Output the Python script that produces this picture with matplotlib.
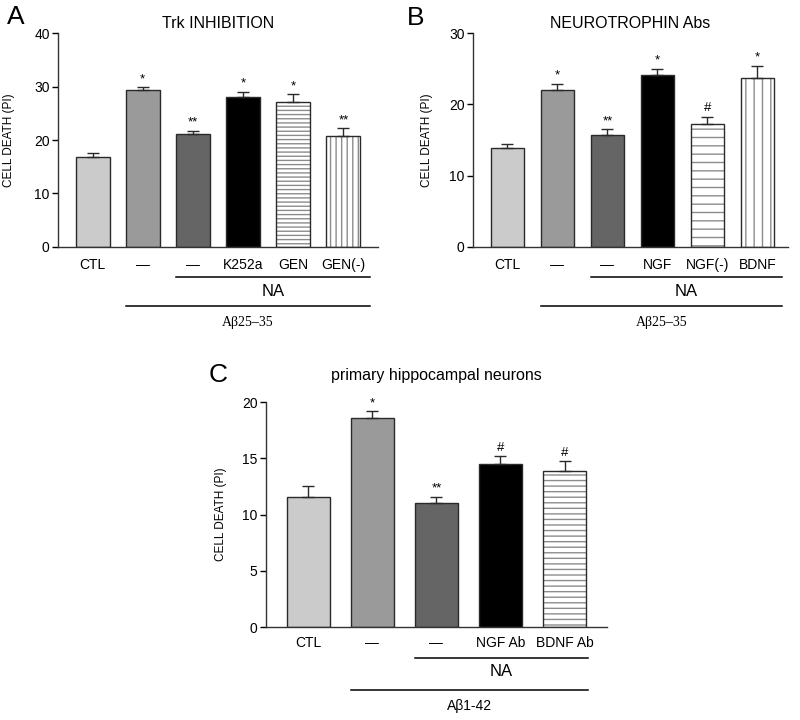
import matplotlib
matplotlib.use("Agg")
import matplotlib.pyplot as plt
import matplotlib.transforms as mtransforms

plt.rcParams['font.family'] = ['Liberation Sans', 'DejaVu Sans']

# ---- data ----
a_labels = ['CTL', '—', '—', 'K252a', 'GEN', 'GEN(-)']
a_values = [16.8, 29.3, 21.1, 28.0, 27.2, 20.8]
a_errors = [0.8, 0.6, 0.6, 1.0, 1.4, 1.4]
a_marks = ['', '*', '**', '*', '*', '**']

b_labels = ['CTL', '—', '—', 'NGF', 'NGF(-)', 'BDNF']
b_values = [13.9, 22.0, 15.7, 24.1, 17.3, 23.7]
b_errors = [0.6, 0.9, 0.8, 0.9, 1.0, 1.7]
b_marks = ['', '*', '**', '*', '#', '*']

c_labels = ['CTL', '—', '—', 'NGF Ab', 'BDNF Ab']
c_values = [11.6, 18.6, 11.0, 14.5, 13.9]
c_errors = [0.9, 0.6, 0.6, 0.7, 0.9]
c_marks = ['', '*', '**', '#', '#']

face = ['#cbcbcb', '#9a9a9a', '#656565', '#000000', 'white', 'white']
edge = '#2a2a2a'


def draw_panel(ax, labels, values, errors, marks, hatches, ymax, yticks,
               xlim, width, na_end, peptide, pep_family, title, title_y,
               ylab_x, ytxt):
    n = len(values)
    x = list(range(n))
    for i in x:
        if hatches[i]:
            ax.bar(i, values[i], width, color='white', edgecolor='#8c8c8c',
                   hatch=hatches[i], linewidth=0, zorder=2)
            ax.bar(i, values[i], width, fill=False, edgecolor=edge,
                   linewidth=1.0, zorder=3)
        else:
            ax.bar(i, values[i], width, color=face[i], edgecolor=edge,
                   linewidth=1.0, zorder=2)
    ax.errorbar(x, values, yerr=[[0] * n, errors], fmt='none', ecolor=edge,
                elinewidth=1.0, capsize=4.5, capthick=1.0, zorder=4)
    for i in x:
        if marks[i]:
            ax.annotate(marks[i], (i, values[i] + errors[i]),
                        xytext=(0, 1.5), textcoords='offset points',
                        ha='center', va='bottom', fontsize=9.5)

    ax.set_xlim(*xlim)
    ax.set_ylim(0, ymax)
    ax.set_yticks(yticks)
    ax.tick_params(axis='y', labelsize=10, length=4, width=1, pad=2)
    ax.set_xticks([])
    for s in ['top', 'right']:
        ax.spines[s].set_visible(False)
    for s in ['left', 'bottom']:
        ax.spines[s].set_linewidth(1.0)
        ax.spines[s].set_color('#333333')
    ax.set_ylabel('CELL DEATH (PI)', fontsize=8.5)
    ax.yaxis.set_label_coords(ylab_x, 0.5)
    ax.text(0.5, title_y, title, transform=ax.transAxes, ha='center',
            va='center', fontsize=11.5)

    trans = mtransforms.blended_transform_factory(ax.transData, ax.transAxes)
    t_lab, y_na, t_na, y_pep, t_pep = ytxt
    for i in x:
        ax.text(i, t_lab, labels[i], transform=trans, ha='center',
                va='center', fontsize=10)
    x_end = n - 1 + width / 2 + na_end
    ax.plot([2 - width / 2, x_end], [y_na, y_na], transform=trans,
            color='black', lw=1.1, clip_on=False)
    ax.text((2 - width / 2 + x_end) / 2, t_na, 'NA', transform=trans,
            ha='center', va='center', fontsize=12)
    ax.plot([1 - width / 2, x_end], [y_pep, y_pep], transform=trans,
            color='black', lw=1.1, clip_on=False)
    ax.text((1 - width / 2 + x_end) / 2, t_pep, peptide, transform=trans,
            ha='center', va='center', fontsize=10, family=pep_family)


fig = plt.figure(figsize=(8, 7.2), dpi=100)

serif = ['Liberation Serif', 'DejaVu Serif']
sans = ['Liberation Sans', 'DejaVu Sans']

ax_a = fig.add_axes([0.0725, 0.657, 0.40, 0.297])
draw_panel(ax_a, a_labels, a_values, a_errors, a_marks,
           ['', '', '', '', '----', '|||'], 40, [0, 10, 20, 30, 40],
           (-0.69, 5.69), 0.68, 0.2, 'Aβ25–35', serif, 'Trk INHIBITION',
           1.047, -0.134, (-0.084, -0.14, -0.21, -0.276, -0.355))

ax_b = fig.add_axes([0.591, 0.657, 0.394, 0.297])
draw_panel(ax_b, b_labels, b_values, b_errors, b_marks,
           ['', '', '', '', '--', '||'], 30, [0, 10, 20, 30],
           (-0.69, 5.61), 0.66, 0.16, 'Aβ25–35', serif, 'NEUROTROPHIN Abs',
           1.047, -0.127, (-0.084, -0.14, -0.21, -0.276, -0.355))

ax_c = fig.add_axes([0.3325, 0.129, 0.426, 0.3125])
draw_panel(ax_c, c_labels, c_values, c_errors, c_marks,
           ['', '', '', '', '---'], 20, [0, 5, 10, 15, 20],
           (-0.66, 4.66), 0.67, 0.03, 'Aβ1-42', sans,
           'primary hippocampal neurons', 1.12, -0.114,
           (-0.071, -0.138, -0.196, -0.28, -0.35))

fig.text(0.02, 0.976, 'A', fontsize=19, ha='center', va='center')
fig.text(0.519, 0.975, 'B', fontsize=19, ha='center', va='center')
fig.text(0.2725, 0.479, 'C', fontsize=19, ha='center', va='center')

fig.savefig('out.png', dpi=100)
